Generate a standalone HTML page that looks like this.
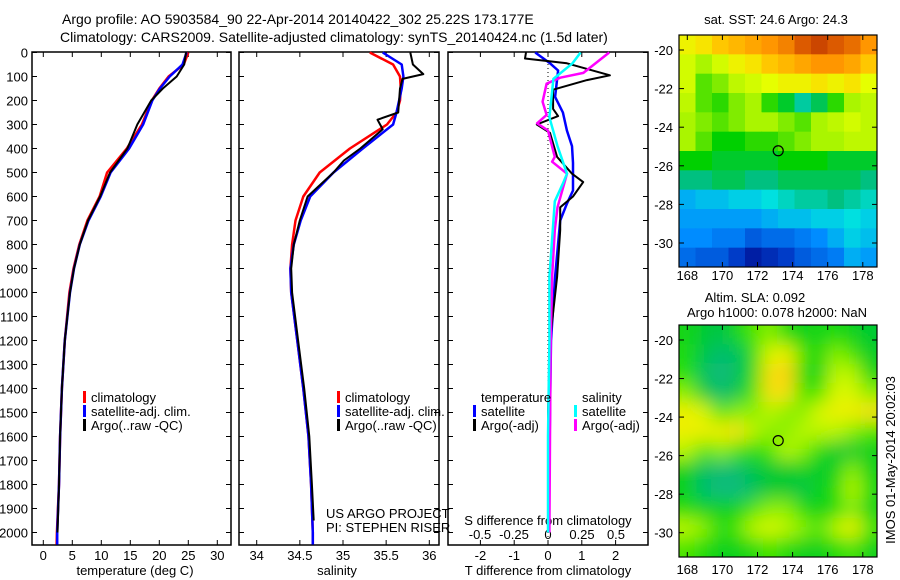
<!DOCTYPE html>
<html><head><meta charset="utf-8">
<style>
html,body{margin:0;padding:0;background:#fff;}
svg{display:block;font-family:"Liberation Sans",sans-serif;}
text{fill:#000;}
</style></head>
<body>
<svg id="chart" width="900" height="580" viewBox="0 0 900 580" xmlns="http://www.w3.org/2000/svg">
<text x="62" y="24" font-size="14">Argo profile: AO 5903584_90 22-Apr-2014 20140422_302 25.22S 173.177E</text>
<text x="60" y="42" font-size="14">Climatology: CARS2009. Satellite-adjusted climatology: synTS_20140424.nc (1.5d later)</text>
<g id="g"></g>
</svg>
<script>
// ---------- data ----------
const depthTicks = [0,100,200,300,400,500,600,700,800,900,1000,1100,1200,1300,1400,1500,1600,1700,1800,1900,2000];
const tempTicks = [0,5,10,15,20,25,30];
const salTicks = [34,34.5,35,35.5,36];
const salTickLabels = ["34","34.5","35","35.5","36"];
const tdiffTicks = [-2,-1,0,1,2];
const sdiffTicks = [-0.5,-0.25,0,0.25,0.5];
const sdiffTickLabels = ["-0.5","-0.25","0","0.25","0.5"];

const profDepth = [0,50,100,150,200,300,400,500,600,700,800,900,1000,1200,1400,1600,1800,2000,2050];
const tempClim  = [25.0,24.2,21.6,20.0,18.7,17.0,14.4,11.0,9.7,7.6,6.2,5.2,4.5,3.7,3.2,2.9,2.7,2.35,2.3];
const tempSat   = [24.7,24.0,21.8,20.1,18.8,17.2,14.8,11.6,9.9,7.8,6.3,5.3,4.6,3.7,3.2,2.9,2.7,2.4,2.4];
const tempArgo  = [24.6,24.3,23.0,20.6,18.6,16.2,14.5,11.5,9.8,7.7,6.3,5.3,4.6,3.7,3.2,2.9,2.7,2.45,null];
const salDepth  = [0,50,100,150,200,250,300,400,500,600,700,800,900,1000,1200,1400,1600,1800,2000,2050];
const salClim   = [35.31,35.58,35.66,35.67,35.66,35.62,35.51,35.08,34.73,34.54,34.45,34.41,34.39,34.40,34.47,34.54,34.60,34.63,34.65,34.65];
const salSat    = [35.46,35.68,35.70,35.68,35.65,35.62,35.58,35.23,34.89,34.62,34.51,34.43,34.39,34.40,34.47,34.54,34.60,34.63,34.65,34.65];
const salArgoD  = [0,50,90,110,150,250,280,300,320,400,450,500,600,700,800,900,1000,1200,1400,1600,1800,1950];
const salArgo   = [35.78,35.81,35.93,35.69,35.66,35.64,35.40,35.43,35.46,35.20,35.01,34.89,34.59,34.50,34.43,34.40,34.41,34.48,34.55,34.61,34.64,34.66];

const tSatD  = [0,45,75,185,250,325,390,460,575,630,700,935,1200,1500,1800,2000];
const tSatV  = [-0.38,0.06,0.30,0.21,0.44,0.56,0.71,0.74,0.74,0.56,0.36,0.21,0.09,0.06,0.03,0.03];
const tArgoD = [0,25,45,95,115,155,235,265,300,335,435,505,540,600,645,740,935,1200,1500,1950];
const tArgoV = [-0.65,-0.68,0.56,1.83,1.15,0.15,0.15,0.30,-0.33,0.06,0.27,0.71,1.04,0.74,0.36,0.36,0.27,0.06,0.0,0.0];
const sArgoD = [0,40,85,105,130,205,260,295,325,435,455,505,645,740,935,1200,1600,2000];
const sArgoV = [0.45,0.36,0.26,0.09,-0.01,-0.04,-0.01,-0.08,0.0,0.05,0.03,0.14,0.07,0.05,0.03,0.02,0.015,0.01];
const sSatD  = [0,45,110,270,390,505,545,620,935,1200,1600,2000];
const sSatV  = [0.24,0.18,0.04,0.01,0.07,0.14,0.11,0.05,0.01,0.01,0.0,0.0];

const lonTicks = [168,170,172,174,176,178];
const latTicks = [-20,-22,-24,-26,-28,-30];
const sstGrid = [
[25.3,25.4,25.6,25.7,25.8,25.9,26.0,26.2,26.3,26.2,26.1,25.9],
[25.1,24.9,25.1,25.3,25.4,25.6,25.7,25.8,25.9,25.9,25.8,25.6],
[25.1,24.7,24.8,25.0,25.1,25.2,25.3,25.3,25.4,25.3,25.4,25.2],
[25.0,24.7,24.6,24.8,24.9,24.6,24.4,24.1,24.3,24.6,24.9,25.0],
[24.9,24.8,24.7,24.8,24.9,24.9,24.8,24.7,24.9,25.0,25.1,25.0],
[24.9,24.7,24.5,24.5,24.6,24.6,24.7,24.8,24.9,24.9,25.0,25.0],
[24.5,24.5,24.4,24.4,24.4,24.4,24.5,24.5,24.5,24.4,24.4,24.4],
[24.2,24.2,24.3,24.3,24.2,24.2,24.3,24.3,24.3,24.3,24.3,24.2],
[23.6,23.7,23.7,23.8,23.8,23.9,24.0,24.1,24.1,24.2,24.1,24.0],
[23.5,23.5,23.5,23.5,23.5,23.6,23.7,23.7,23.8,23.8,23.9,23.8],
[23.4,23.4,23.3,23.3,23.1,23.2,23.2,23.3,23.4,23.6,23.8,23.7],
[23.2,23.1,23.1,22.9,22.7,22.8,22.9,23.1,23.2,23.3,23.6,23.5]];
const slaGrid = [
[0.05,0.02,0.0,0.05,0.08,0.10,0.06,0.04,0.05,0.06,0.04,0.02],
[0.06,0.0,-0.04,-0.02,0.06,0.14,0.16,0.08,0.05,0.10,0.08,0.03],
[0.07,-0.02,-0.06,-0.02,0.06,0.18,0.20,0.06,0.04,0.12,0.12,0.05],
[0.10,0.02,-0.04,0.0,0.08,0.18,0.18,0.08,0.08,0.14,0.14,0.10],
[0.16,0.14,0.08,0.10,0.10,0.12,0.10,0.10,0.14,0.16,0.16,0.18],
[0.16,0.16,0.16,0.18,0.12,0.10,0.10,0.12,0.12,0.12,0.10,0.08],
[0.12,0.08,0.10,0.08,0.06,0.08,0.12,0.10,0.06,0.02,0.02,0.04],
[0.04,-0.02,-0.04,-0.04,0.0,0.02,0.02,0.04,0.02,0.04,0.10,0.04],
[0.04,-0.04,-0.06,-0.06,-0.02,0.02,0.02,0.0,0.04,0.06,0.12,0.06],
[0.06,0.04,0.04,0.04,0.08,0.10,0.10,0.06,0.04,0.06,0.10,0.04],
[0.12,0.10,0.06,0.08,0.12,0.14,0.12,0.10,0.08,0.12,0.16,0.08],
[0.08,0.06,0.04,0.04,0.06,0.08,0.06,0.04,0.04,0.06,0.08,0.04]];
const floatLon = 173.18, floatLat = -25.22;

// ---------- helpers ----------
const NS = "http://www.w3.org/2000/svg";
const G = document.getElementById('g');
function mk(tag, attrs, parent){ const e=document.createElementNS(NS,tag); for(const k in attrs) e.setAttribute(k,attrs[k]); (parent||G).appendChild(e); return e; }
function txt(x,y,s,anchor,size,name){ const t=mk('text',{x:x,y:y,'font-size':size||13,'text-anchor':anchor||'start'}); t.textContent=s;


return t; }

const Y0=52.5, YK=0.24, FT=52, FB=545;
const yD = d => Y0 + YK*d;

function frame(x0,x1,name){
  const r=mk('rect',{x:x0,y:FT,width:x1-x0,height:FB-FT,fill:'none',stroke:'#000','stroke-width':1.5});
  
  
  depthTicks.forEach(d=>{ mk('line',{x1:x0,x2:x0+5,y1:yD(d),y2:yD(d),stroke:'#000'}); mk('line',{x1:x1,x2:x1-5,y1:yD(d),y2:yD(d),stroke:'#000'}); });
}
function xticks(ticks,labels,fx,ly,name){
  ticks.forEach((v,i)=>{ const x=fx(v);
    mk('line',{x1:x,x2:x,y1:FB,y2:FB-5,stroke:'#000'}); mk('line',{x1:x,x2:x,y1:FT,y2:FT+5,stroke:'#000'});
    txt(x,ly,labels[i],'middle',13,name); });
}
function line(ds,vs,fx,color,name,w){
  let p='';
  ds.forEach((d,i)=>{ if(vs[i]===null) return; p+=(p?'L':'M')+fx(vs[i]).toFixed(1)+','+yD(d).toFixed(1); });
  const e=mk('path',{d:p,fill:'none',stroke:color,'stroke-width':w||2.5,'stroke-linejoin':'round'});
  
  
}
function legend(x,y,color,label,name){
  const r=mk('rect',{x:x,y:y-6,width:3,height:12,fill:color});
  
  
  txt(x+8,y+5,label,'start',13,name);
}

// depth tick labels
depthTicks.forEach(d=>txt(28,yD(d)+5,String(d),'end',13,'depth-tick-label'));

// ---------- panel 1: temperature ----------
const xT = t => 43.3 + 5.8*t;
frame(32,231,'temperature-panel');
xticks(tempTicks,tempTicks.map(String),xT,560,'temperature-tick-label');
txt(135,575,'temperature (deg C)','middle',13,'temperature-axis-title');
line(profDepth,tempClim,xT,'#ff0000','temperature-climatology-line');
line(profDepth,tempSat,xT,'#0000ff','temperature-satellite-line');
line(profDepth,tempArgo,xT,'#000000','temperature-argo-line',2);
legend(83,397,'#ff0000','climatology','legend-climatology');
legend(83,411,'#0000ff','satellite-adj. clim.','legend-satellite');
legend(83,425,'#000000','Argo(..raw -QC)','legend-argo');

// ---------- panel 2: salinity ----------
const xS = s => 256.7 + 86.3*(s-34);
frame(239,439,'salinity-panel');
xticks(salTicks,salTickLabels,xS,560,'salinity-tick-label');
txt(337,575,'salinity','middle',13,'salinity-axis-title');
line(salDepth,salClim,xS,'#ff0000','salinity-climatology-line');
line(salDepth,salSat,xS,'#0000ff','salinity-satellite-line');
line(salArgoD,salArgo,xS,'#000000','salinity-argo-line',2);
legend(337,397,'#ff0000','climatology','legend-climatology-sal');
legend(337,411,'#0000ff','satellite-adj. clim.','legend-satellite-sal');
legend(337,425,'#000000','Argo(..raw -QC)','legend-argo-sal');
txt(326,518,'US ARGO PROJECT','start',13,'project-note');
txt(326,532,'PI: STEPHEN RISER','start',13,'pi-note');

// ---------- panel 3: differences ----------
const xTd = v => 548 + 33.8*v;
const xSd = v => 548 + 136*v;
frame(448,648,'difference-panel');
mk('line',{x1:548,x2:548,y1:FT,y2:FB,stroke:'#000','stroke-dasharray':'1,3'});
tdiffTicks.forEach(v=>{ const x=xTd(v); mk('line',{x1:x,x2:x,y1:FB,y2:FB-5,stroke:'#000'}); mk('line',{x1:x,x2:x,y1:FT,y2:FT+5,stroke:'#000'}); txt(x,560,String(v),'middle',13,'tdiff-tick-label'); });
sdiffTicks.forEach((v,i)=>txt(xSd(v),539,sdiffTickLabels[i],'middle',13,'sdiff-tick-label'));
txt(548,525,'S difference from climatology','middle',13,'sdiff-axis-title');
txt(548,575,'T difference from climatology','middle',13,'tdiff-axis-title');
line(tSatD,tSatV,xTd,'#0000ff','tdiff-satellite-line');
line(tArgoD,tArgoV,xTd,'#000000','tdiff-argo-line',2);
line(sArgoD,sArgoV,xSd,'#ff00ff','sdiff-argo-line');
line(sSatD,sSatV,xSd,'#00ffff','sdiff-satellite-line');
txt(481,402,'temperature','start',13,'legend-temperature-header');
legend(473,411,'#0000ff','satellite','legend-tdiff-satellite');
legend(473,425,'#000000','Argo(-adj)','legend-tdiff-argo');
txt(582,402,'salinity','start',13,'legend-salinity-header');
legend(574,411,'#00ffff','satellite','legend-sdiff-satellite');
legend(574,425,'#ff00ff','Argo(-adj)','legend-sdiff-argo');

// ---------- maps ----------
function interp(stops,v){
  if(v<=stops[0][0]) return stops[0][1];
  for(let i=1;i<stops.length;i++){ if(v<=stops[i][0]){ const a=stops[i-1],b=stops[i],f=(v-a[0])/(b[0]-a[0]);
    const ca=a[1],cb=b[1]; return ca.map((c,k)=>Math.round(c+(cb[k]-c)*f)); } }
  return stops[stops.length-1][1];
}
const sstStops=[[22.5,[0,0,128]],[22.9,[0,60,200]],[23.4,[0,140,255]],[23.9,[0,224,224]],[24.2,[0,192,128]],[24.5,[0,208,0]],[24.9,[170,245,0]],[25.2,[230,255,0]],[25.5,[255,215,0]],[25.9,[255,150,0]],[26.2,[220,90,0]],[26.5,[170,30,0]]];
const slaStops=[[-0.08,[16,184,144]],[-0.02,[0,192,96]],[0.03,[0,204,40]],[0.07,[40,224,0]],[0.11,[170,245,0]],[0.15,[232,248,0]],[0.2,[255,208,16]]];

function drawMap(x0,y0,w,h,grid,stops,name,blur,latTop,latK,lonL,lonK,lonLabelY){
  const lonX = lon => lonL + lonK*(lon-168);
  const latY = lat => latTop + latK*(-20-lat);
  const clipId=name+'-clip';
  const defs=mk('defs',{});
  const cp=mk('clipPath',{id:clipId},defs); mk('rect',{x:x0,y:y0,width:w,height:h},cp);
  if(blur){ const f=mk('filter',{id:name+'-blur',x:'-10%',y:'-10%',width:'120%',height:'120%'},defs); mk('feGaussianBlur',{stdDeviation:9},f); }
  const outer=mk('g',{'clip-path':'url(#'+clipId+')'});
  
  
  const gg=mk('g',blur?{filter:'url(#'+name+'-blur)'}:{},outer);
  const rows=grid.length, cols=grid[0].length;
  const cw=w/cols, ch=h/rows;
  const pad = blur?2:0;
  for(let r=-pad;r<rows+pad;r++) for(let c=-pad;c<cols+pad;c++){
    const rr=Math.min(rows-1,Math.max(0,r)), cc=Math.min(cols-1,Math.max(0,c));
    const col=interp(stops,grid[rr][cc]);
    const cell=mk('rect',{x:(x0+c*cw).toFixed(2),y:(y0+r*ch).toFixed(2),width:(cw+0.6).toFixed(2),height:(ch+0.6).toFixed(2),fill:'rgb('+col.join(',')+')'},gg);
    
    
  }
  mk('rect',{x:x0,y:y0,width:w,height:h,fill:'none',stroke:'#000','stroke-width':1.2});
  lonTicks.forEach(l=>{ const x=lonX(l); mk('line',{x1:x,x2:x,y1:y0,y2:y0+5,stroke:'#000'}); mk('line',{x1:x,x2:x,y1:y0+h,y2:y0+h-5,stroke:'#000'}); txt(x,lonLabelY,String(l),'middle',13,'lon-tick-label'); });
  latTicks.forEach(l=>{ const y=latY(l); mk('line',{x1:x0,x2:x0+5,y1:y,y2:y,stroke:'#000'}); mk('line',{x1:x0+w,x2:x0+w-5,y1:y,y2:y,stroke:'#000'}); txt(x0-6,y+5,String(l),'end',13,'lat-tick-label'); });
  const c=mk('circle',{cx:lonX(floatLon),cy:latY(floatLat),r:5,fill:'none',stroke:'#000','stroke-width':1.2});
  
  
}
txt(776,24,'sat. SST: 24.6 Argo: 24.3','middle',13,'sst-map-title');
drawMap(679,35,198,232,sstGrid,sstStops,'sst-map',false,50,19.3,687.3,17.55,280);
txt(755,302,'Altim. SLA: 0.092','middle',13,'sla-map-title');
txt(777,317,'Argo h1000: 0.078 h2000: NaN','middle',13,'sla-map-subtitle');
drawMap(679,325,198,232,slaGrid,slaStops,'sla-map',true,340,19.27,687.3,17.55,574);
const st=mk('text',{x:0,y:0,'font-size':13,'text-anchor':'middle',transform:'translate(895,460) rotate(-90)'});
st.textContent='IMOS 01-May-2014 20:02:03';


</script>
</body></html>
